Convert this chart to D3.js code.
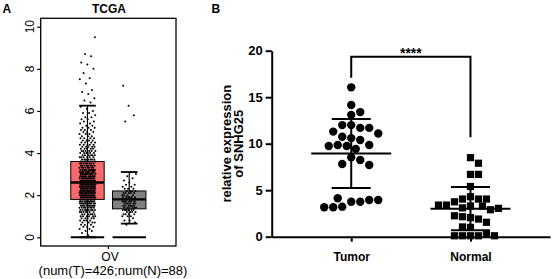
<!DOCTYPE html>
<html>
<head>
<meta charset="utf-8">
<script src="https://cdn.jsdelivr.net/npm/d3@7"></script>
<style>
  body { margin: 0; background: #fff; }
  svg { display: block; font-family: "Liberation Sans", Arial, sans-serif; }
</style>
</head>
<body>
<div id="container"></div>
<script>
// DATA ####################################

// panel A (TCGA OV box plot)
const groupsA = ["Tumor", "Normal"];
// [low whisker, Q1, median, Q3, high whisker]
const boxTumor = [0, 1.8, 2.6, 3.6, 6.25];
const boxNormal = [0.65, 1.35, 1.8, 2.2, 3.1];
const boxColors = ["#F8696B", "#808080"];
// jittered samples: how many fall in each 0.1 bin, first bin value given
const tumorBinStart = 0.0;
const tumorBinCounts = [2, 1, 1, 2, 2, 3, 3, 4, 4, 5,
  6, 6, 7, 8, 8, 11, 12, 12, 13, 13,
  14, 14, 14, 14, 14, 13, 13, 13, 12, 12,
  12, 11, 11, 8, 8, 8, 7, 7, 6, 6,
  6, 6, 5, 5, 5, 4, 4, 4, 3, 3,
  3, 3, 3, 2, 2, 2, 2, 2, 1, 2, 1, 1, 1];
const tumorOutliers = [6.4, 6.5, 6.6, 6.8, 6.9, 7.0, 7.3, 7.5, 7.55, 7.8, 8.0, 8.2, 8.3, 8.6, 8.7, 9.5];
const normalBinStart = 0.6;
const normalBinCounts = [1, 1, 2, 1, 3, 4, 4, 6, 6, 6,
  6, 6, 6, 6, 4, 5, 4, 3, 2, 2,
  1, 1, 1, 1, 1, 1];
const normalOutliers = [5.5, 5.8, 6.25, 7.2];
const ticksA = [0, 2, 4, 6, 8, 10];

// panel B (SNHG25 dot plot)
const groupsB = ["Tumor", "Normal"];
const tumorB = [16.06, 14.16, 13.4, 13.1, 12.0, 11.7, 12.0, 11.7, 11.3, 10.6,
  11.1, 10.75, 10.4, 9.86, 9.86, 9.75, 9.75, 9.43, 8.53, 8.25,
  7.82, 7.71, 3.76, 3.76, 3.23, 3.95, 4.13, 3.16, 3.95, 3.16];
const normalB = [8.5, 7.9, 6.7, 6.7, 5.4, 4.3, 4.05, 4.05, 4.05, 3.75,
  3.3, 3.3, 3.1, 2.9, 3.4, 3.05, 3.4, 2.05, 1.9, 2.15,
  2.25, 1.55, 1.0, 1.05, 0.1, 0.1, 0.1, 0.25, 0.1, 0.1];
const ticksB = [0, 5, 10, 15, 20];
// significance bracket: left end, bar height, right end
const sigBracket = [17.1, 19.35, 10.7];

// CONSTANTS ###############################
const width = 554, height = 279;

const svg = d3.select("#container")
  .append("svg")
  .attr("width", width)
  .attr("height", height);

// PANEL A #################################
const frameA = { left: 40.7, right: 176, top: 18.3, bottom: 246 };

const xA = d3.scalePoint()
  .domain(groupsA)
  .range([frameA.left, frameA.right])
  .padding(1.12);

const yA = d3.scaleLinear()
  .domain([0, 10])
  .range([237.3, 26.7]);

const boxW = xA.step() * 0.8;

function expand(start, counts) {
  const out = [];
  counts.forEach((c, i) => {
    for (let j = 0; j < c; j++) out.push(Math.round((start + i * 0.1) * 10) / 10);
  });
  return out;
}

const samplesA = [
  { group: "Tumor", values: expand(tumorBinStart, tumorBinCounts).concat(tumorOutliers), spread: 8 },
  { group: "Normal", values: expand(normalBinStart, normalBinCounts).concat(normalOutliers), spread: 7 }
];
const boxesA = [
  { group: "Tumor", s: boxTumor, color: boxColors[0] },
  { group: "Normal", s: boxNormal, color: boxColors[1] }
];

const gA = svg.append("g");

// boxes
boxesA.forEach(b => {
  const cx = xA(b.group);
  const g = gA.append("g");
  // whiskers
  g.append("line").attr("x1", cx).attr("x2", cx)
    .attr("y1", yA(b.s[3])).attr("y2", yA(b.s[4]))
    .attr("stroke", "#000").attr("stroke-width", 1.2);
  g.append("line").attr("x1", cx).attr("x2", cx)
    .attr("y1", yA(b.s[1])).attr("y2", yA(b.s[0]))
    .attr("stroke", "#000").attr("stroke-width", 1.2);
  // caps
  [b.s[0], b.s[4]].forEach(v => {
    g.append("line").attr("x1", cx - boxW / 4).attr("x2", cx + boxW / 4)
      .attr("y1", yA(v)).attr("y2", yA(v))
      .attr("stroke", "#000").attr("stroke-width", 1.8);
  });
  // zero line
  g.append("line").attr("x1", cx - boxW / 2).attr("x2", cx + boxW / 2)
    .attr("y1", yA(0)).attr("y2", yA(0))
    .attr("stroke", "#000").attr("stroke-width", 2);
  // box
  g.append("rect")
    .attr("x", cx - boxW / 2).attr("width", boxW)
    .attr("y", yA(b.s[3])).attr("height", yA(b.s[1]) - yA(b.s[3]))
    .attr("fill", b.color).attr("stroke", "#000").attr("stroke-width", 1);
  g.append("line").attr("x1", cx - boxW / 2).attr("x2", cx + boxW / 2)
    .attr("y1", yA(b.s[2])).attr("y2", yA(b.s[2]))
    .attr("stroke", "#000").attr("stroke-width", 2.4);
});

// jittered points
samplesA.forEach(s => {
  const cx = xA(s.group);
  gA.append("g").selectAll("circle")
    .data(s.values)
    .join("circle")
    .attr("cx", (d, i) => cx + (((i * 0.618034 + 0.3) % 1) - 0.5) * 2 * s.spread)
    .attr("cy", d => yA(d))
    .attr("r", 1)
    .attr("fill", "#000");
});

// frame
gA.append("rect")
  .attr("x", frameA.left).attr("y", frameA.top)
  .attr("width", frameA.right - frameA.left)
  .attr("height", frameA.bottom - frameA.top)
  .attr("fill", "none").attr("stroke", "#000").attr("stroke-width", 1.3);

// y axis ticks
gA.append("g")
  .attr("transform", `translate(${frameA.left},0)`)
  .call(d3.axisLeft(yA).tickValues(ticksA).tickSize(3.5).tickSizeOuter(0).tickFormat(""))
  .call(g => g.select(".domain").remove())
  .call(g => g.selectAll("line").attr("stroke-width", 1.2));

gA.selectAll("text.ytick")
  .data(ticksA)
  .join("text")
  .attr("class", "ytick")
  .attr("transform", d => `translate(33.5,${yA(d)}) rotate(-90)`)
  .attr("text-anchor", "middle")
  .attr("font-size", 12)
  .text(d => d);

// x tick
const midA = (frameA.left + frameA.right) / 2;
gA.append("line").attr("x1", midA).attr("x2", midA)
  .attr("y1", frameA.bottom).attr("y2", frameA.bottom + 3)
  .attr("stroke", "#000").attr("stroke-width", 1.2);

gA.append("text").attr("x", 110).attr("y", 260.5)
  .attr("text-anchor", "middle").attr("font-size", 12).text("OV");
gA.append("text").attr("x", 113).attr("y", 275)
  .attr("text-anchor", "middle").attr("font-size", 13).text("(num(T)=426;num(N)=88)");

gA.append("text").attr("x", 109).attr("y", 13.3)
  .attr("text-anchor", "middle").attr("font-size", 12).attr("font-weight", "bold").text("TCGA");

svg.append("text").attr("x", 2.5).attr("y", 12.7)
  .attr("font-size", 12).attr("font-weight", "bold").text("A");
svg.append("text").attr("x", 211.5).attr("y", 12.5)
  .attr("font-size", 12).attr("font-weight", "bold").text("B");

// PANEL B #################################
const xB = d3.scalePoint()
  .domain(groupsB)
  .range([271.7, 550])
  .padding(0.667);

const yB = d3.scaleLinear()
  .domain([0, 20])
  .range([236.7, 50.7]);

const gB = svg.append("g");

// simple beeswarm: nearest free slot in half-diameter steps
function swarm(values, cx, diam) {
  const placed = [];
  return values.map(v => {
    const y = yB(v);
    let x = cx;
    for (let k = 0; k < 60; k++) {
      const off = (k % 2 ? 1 : -1) * Math.ceil(k / 2) * diam / 2;
      const tx = cx + off;
      const hit = placed.some(p => Math.hypot(p.x - tx, p.y - y) < diam - 0.01);
      if (!hit) { x = tx; break; }
    }
    const pt = { x, y, v };
    placed.push(pt);
    return pt;
  });
}

const ptsTumor = swarm(tumorB, xB("Tumor"), 9);
const ptsNormal = swarm(normalB, xB("Normal"), 8);

gB.append("g").selectAll("circle")
  .data(ptsTumor)
  .join("circle")
  .attr("cx", d => d.x).attr("cy", d => d.y)
  .attr("r", 4.2).attr("fill", "#000");

gB.append("g").selectAll("rect")
  .data(ptsNormal)
  .join("rect")
  .attr("x", d => d.x - 3.6).attr("y", d => d.y - 3.6)
  .attr("width", 7.2).attr("height", 7.2).attr("fill", "#000");

// mean +/- SD
[[ "Tumor", tumorB ], [ "Normal", normalB ]].forEach(([grp, vals]) => {
  const cx = xB(grp);
  const m = d3.mean(vals), sd = d3.deviation(vals);
  const g = gB.append("g").attr("stroke", "#000").attr("stroke-width", 2);
  g.append("line").attr("x1", cx - 40).attr("x2", cx + 40).attr("y1", yB(m)).attr("y2", yB(m));
  g.append("line").attr("x1", cx).attr("x2", cx).attr("y1", yB(m - sd)).attr("y2", yB(m + sd));
  [m - sd, m + sd].forEach(v => {
    g.append("line").attr("x1", cx - 19.5).attr("x2", cx + 19.5).attr("y1", yB(v)).attr("y2", yB(v));
  });
});

// axes
gB.append("g")
  .attr("transform", "translate(271.7,0)")
  .call(d3.axisLeft(yB).tickValues(ticksB).tickSize(6).tickSizeOuter(0).tickPadding(3))
  .call(g => g.selectAll("path, line").attr("stroke", "#000").attr("stroke-width", 2))
  .call(g => g.selectAll("text").attr("font-size", 13).attr("font-weight", "bold")
    .attr("fill", "#000").attr("font-family", "Liberation Sans, Arial, sans-serif"));

gB.append("g")
  .attr("transform", "translate(0,236.7)")
  .call(d3.axisBottom(xB).tickSize(5).tickSizeOuter(0).tickPadding(11))
  .call(g => g.selectAll("path, line").attr("stroke", "#000").attr("stroke-width", 2))
  .call(g => g.selectAll("text").attr("font-size", 12).attr("font-weight", "bold")
    .attr("fill", "#000").attr("font-family", "Liberation Sans, Arial, sans-serif"));

// y label
const yLab = gB.append("text")
  .attr("transform", `translate(231,${(yB(0) + yB(20)) / 2}) rotate(-90)`)
  .attr("text-anchor", "middle")
  .attr("font-size", 13).attr("font-weight", "bold");
yLab.append("tspan").attr("x", 0).attr("dy", 0).text("relative expression");
yLab.append("tspan").attr("x", 0).attr("dy", 11.5).text("of SNHG25");

// significance bracket
const bx1 = xB("Tumor"), bx2 = xB("Normal");
gB.append("path")
  .attr("d", `M${bx1},${yB(sigBracket[0])}V${yB(sigBracket[1])}H${bx2}V${yB(sigBracket[2])}`)
  .attr("fill", "none").attr("stroke", "#000").attr("stroke-width", 2);
gB.append("text")
  .attr("x", (bx1 + bx2) / 2).attr("y", 58)
  .attr("text-anchor", "middle").attr("font-size", 14).attr("font-weight", "bold")
  .text("****");
</script>
</body>
</html>
